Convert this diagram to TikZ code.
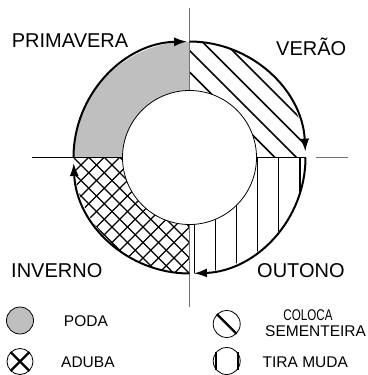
\documentclass[tikz,border=0pt]{standalone}
\usepackage{fontspec}
\setmainfont{Liberation Sans}
\usepackage{tikz}
\usetikzlibrary{arrows.meta,positioning,calc}

\tikzset{
	season/.style={font=\fontsize{20}{24}\selectfont, inner sep=0pt, anchor=base west},
	legtext/.style={font=\fontsize{15.5}{18}\selectfont, inner sep=0pt, anchor=base west},
	hatch/.style={line width=1.5pt},
	cycarrow/.style={line width=2pt, -{Latex[length=13pt,width=9pt]}},
	axisline/.style={draw=black!55, line width=0.9pt},
	legicon/.style={circle, draw=black, line width=0.8pt, inner sep=0pt, minimum size=27pt},
	iconbar/.style={line width=2.2pt},
}

\begin{document}
\begin{tikzpicture}[x=1pt,y=1pt]
		\useasboundingbox (-189.5,-217.5) rectangle (177.5,157.5);

		% spring quarter of the ring
		\fill[black!25] (90:116pt) arc[start angle=90, end angle=180, radius=116pt]
			-- (180:67pt) arc[start angle=180, end angle=90, radius=67pt] -- cycle;

		% summer: slanted lines
		\begin{scope}
			\clip (0,0) rectangle (120,120);
			\clip (0,0) circle (116pt);
			\foreach \c in {-0.5,21,...,165}
				\draw[hatch] (\c-130,130) -- (\c+130,-130);
		\end{scope}

		% autumn: upright lines
		\begin{scope}
			\clip (0,0) rectangle (120,-120);
			\clip (0,0) circle (116pt);
			\foreach \v in {4.8,25.9,...,120}
				\draw[hatch] (\v,0) -- (\v,-120);
		\end{scope}

		% winter: cross hatch
		\begin{scope}
			\clip (0,0) rectangle (-120,-120);
			\clip (0,0) circle (116pt);
			\foreach \c in {-178,-162.5,...,180} {
				\draw[hatch, line width=1.4pt] (-200,\c-200) -- (200,\c+200);
				\draw[hatch, line width=1.4pt] (-200,\c+200) -- (200,\c-200);
			}
		\end{scope}

		% axes
		\coordinate (axtop) at (0,149.5);
		\coordinate (axbot) at (0,-149.5);
		\coordinate (axleft) at (-157.5,0);
		\coordinate (axmid) at (116,0);
		\coordinate (axrin) at (126.5,0);
		\coordinate (axright) at (158.5,0);
		\draw[axisline] (axtop) -- (axbot);
		\draw[line width=1.2pt] (axleft) -- (axmid);
		\draw[axisline] (axrin) -- (axright);

		% hole in the middle
		\draw[fill=white, line width=0.8pt] (0,0) circle (67pt);

		% the year going round
		\draw[cycarrow] (180:116pt) arc[start angle=180, end angle=91.2, radius=116pt];
		\draw[cycarrow] (90:116pt) arc[start angle=90, end angle=2.9, radius=116pt];
		\draw[cycarrow] (0:116pt) arc[start angle=0, end angle=-87.8, radius=116pt];
		\draw[cycarrow] (-90:116pt) arc[start angle=-90, end angle=-177.3, radius=116pt];

		\node[season] (primavera) at (-177.8,109.8) {PRIMAVERA};
		\node[season] (verao) at (86.5,101.8) {VERÃO};
		\node[season] (inverno) at (-178.5,-119.8) {INVERNO};
		\node[season] (outono) at (67.5,-119.5) {OUTONO};

		% legend
		\node[legicon, fill=black!25] (podaicon) at (-169.5,-163) {};
		\node[legicon, minimum size=26pt] (adubaicon) at (-169.5,-204) {};
		\draw[iconbar] (adubaicon.45) -- (adubaicon.225);
		\draw[iconbar] (adubaicon.135) -- (adubaicon.-45);
		\node[legicon] (colocaicon) at (37.2,-166.5) {};
		\draw[iconbar] (colocaicon.135) -- (colocaicon.-45);
		\node[legicon] (tiraicon) at (37.2,-203.5) {};
		\draw[iconbar] (tiraicon.38) -- (tiraicon.-38);
		\draw[iconbar] (tiraicon.142) -- (tiraicon.-142);

		\node[legtext] (poda) at (-125.7,-168.5) {PODA};
		\node[legtext] (aduba) at (-128.5,-210.2) {ADUBA};
		\node[legtext, anchor=base] (coloca) at (118.5,-163.2) {\scalebox{0.75}[1]{COLOCA}};
		\node[legtext] (sementeira) at (75.5,-178.5) {SEMENTEIRA};
		\node[legtext] (tiramuda) at (73,-210.2) {TIRA MUDA};
	\end{tikzpicture}
\end{document}
